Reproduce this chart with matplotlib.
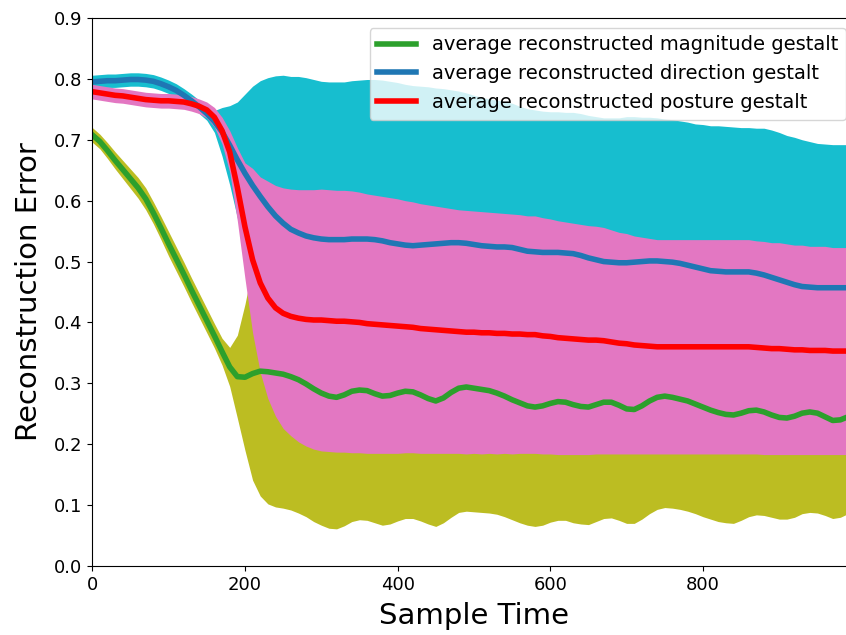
import matplotlib
matplotlib.use("Agg")
import matplotlib.pyplot as plt
import numpy as np

# sample times (every 10 samples)
t = np.arange(0, 1001, 10)

# average reconstruction error and spread for each gestalt
magnitude_mean = [
    0.708, 0.697, 0.682, 0.666, 0.651, 0.636, 0.621, 0.603, 0.580, 0.555,
    0.529, 0.504, 0.479, 0.453, 0.428, 0.403, 0.378, 0.352, 0.327, 0.311,
    0.310, 0.316, 0.320, 0.319, 0.317, 0.315, 0.311, 0.306, 0.299, 0.291,
    0.284, 0.279, 0.277, 0.281, 0.287, 0.289, 0.288, 0.283, 0.279, 0.280,
    0.284, 0.287, 0.286, 0.281, 0.275, 0.271, 0.276, 0.285, 0.292, 0.294,
    0.292, 0.290, 0.288, 0.284, 0.279, 0.273, 0.268, 0.263, 0.261, 0.263,
    0.267, 0.270, 0.269, 0.265, 0.262, 0.261, 0.265, 0.269, 0.269, 0.264,
    0.258, 0.257, 0.263, 0.271, 0.277, 0.279, 0.277, 0.274, 0.271, 0.266,
    0.261, 0.256, 0.252, 0.249, 0.248, 0.251, 0.255, 0.256, 0.253, 0.248,
    0.244, 0.243, 0.246, 0.251, 0.253, 0.251, 0.245, 0.239, 0.240, 0.245,
    0.248]
magnitude_std = [
    0.012, 0.012, 0.013, 0.014, 0.015, 0.016, 0.017, 0.018, 0.018, 0.019,
    0.020, 0.020, 0.020, 0.020, 0.020, 0.020, 0.020, 0.022, 0.032, 0.068,
    0.120, 0.175, 0.205, 0.217, 0.220, 0.220, 0.219, 0.219, 0.218, 0.218,
    0.217, 0.217, 0.216, 0.215, 0.214, 0.213, 0.213, 0.212, 0.212, 0.211,
    0.210, 0.209, 0.208, 0.207, 0.206, 0.206, 0.205, 0.205, 0.204, 0.204,
    0.203, 0.202, 0.201, 0.199, 0.198, 0.197, 0.197, 0.196, 0.196, 0.196,
    0.195, 0.195, 0.194, 0.194, 0.193, 0.193, 0.192, 0.191, 0.190, 0.189,
    0.188, 0.187, 0.186, 0.185, 0.184, 0.183, 0.182, 0.181, 0.181, 0.180,
    0.180, 0.179, 0.179, 0.178, 0.178, 0.176, 0.174, 0.172, 0.170, 0.168,
    0.167, 0.166, 0.166, 0.165, 0.165, 0.164, 0.162, 0.161, 0.160, 0.159,
    0.158]

direction_mean = [
    0.795, 0.796, 0.797, 0.797, 0.798, 0.799, 0.799, 0.798, 0.796, 0.792,
    0.787, 0.781, 0.773, 0.764, 0.754, 0.743, 0.730, 0.713, 0.691, 0.667,
    0.645, 0.625, 0.607, 0.590, 0.575, 0.563, 0.553, 0.547, 0.542, 0.539,
    0.537, 0.536, 0.536, 0.536, 0.537, 0.537, 0.537, 0.536, 0.534, 0.531,
    0.529, 0.527, 0.526, 0.527, 0.528, 0.529, 0.530, 0.531, 0.531, 0.530,
    0.528, 0.526, 0.525, 0.524, 0.524, 0.523, 0.520, 0.517, 0.516, 0.515,
    0.515, 0.515, 0.514, 0.513, 0.510, 0.506, 0.503, 0.500, 0.499, 0.498,
    0.498, 0.499, 0.500, 0.501, 0.501, 0.500, 0.499, 0.497, 0.494, 0.491,
    0.488, 0.485, 0.484, 0.483, 0.483, 0.483, 0.483, 0.481, 0.478, 0.474,
    0.470, 0.466, 0.462, 0.459, 0.458, 0.457, 0.457, 0.457, 0.457, 0.457,
    0.457]
direction_std = [
    0.011, 0.011, 0.011, 0.011, 0.011, 0.011, 0.011, 0.011, 0.011, 0.011,
    0.011, 0.011, 0.011, 0.011, 0.011, 0.011, 0.018, 0.040, 0.065, 0.095,
    0.130, 0.163, 0.190, 0.212, 0.230, 0.243, 0.251, 0.257, 0.260, 0.260,
    0.259, 0.259, 0.259, 0.259, 0.260, 0.261, 0.262, 0.263, 0.264, 0.265,
    0.265, 0.264, 0.263, 0.261, 0.259, 0.256, 0.254, 0.251, 0.249, 0.247,
    0.245, 0.244, 0.242, 0.241, 0.239, 0.237, 0.235, 0.234, 0.233, 0.232,
    0.231, 0.231, 0.231, 0.232, 0.233, 0.234, 0.235, 0.236, 0.237, 0.238,
    0.240, 0.239, 0.237, 0.236, 0.235, 0.234, 0.234, 0.234, 0.235, 0.235,
    0.237, 0.238, 0.239, 0.239, 0.238, 0.237, 0.237, 0.238, 0.241, 0.242,
    0.242, 0.241, 0.242, 0.241, 0.239, 0.237, 0.236, 0.235, 0.235, 0.235,
    0.235]

posture_mean = [
    0.779, 0.777, 0.775, 0.773, 0.772, 0.770, 0.768, 0.766, 0.765, 0.764,
    0.764, 0.763, 0.762, 0.759, 0.755, 0.749, 0.737, 0.715, 0.680, 0.622,
    0.557, 0.503, 0.465, 0.440, 0.424, 0.415, 0.410, 0.407, 0.405, 0.404,
    0.404, 0.403, 0.402, 0.402, 0.401, 0.400, 0.398, 0.397, 0.396, 0.395,
    0.394, 0.393, 0.392, 0.390, 0.389, 0.388, 0.387, 0.386, 0.385, 0.384,
    0.384, 0.383, 0.383, 0.382, 0.382, 0.381, 0.381, 0.380, 0.380, 0.378,
    0.377, 0.375, 0.374, 0.373, 0.372, 0.371, 0.371, 0.370, 0.368, 0.366,
    0.365, 0.363, 0.362, 0.361, 0.360, 0.360, 0.360, 0.360, 0.360, 0.360,
    0.360, 0.360, 0.360, 0.360, 0.360, 0.360, 0.360, 0.359, 0.358, 0.357,
    0.357, 0.356, 0.355, 0.355, 0.354, 0.354, 0.354, 0.353, 0.353, 0.353,
    0.353]
# the posture band is not symmetric while it opens up around t = 200
posture_spread_up = [
    0.012, 0.012, 0.012, 0.012, 0.012, 0.012, 0.012, 0.012, 0.012, 0.012,
    0.012, 0.012, 0.012, 0.012, 0.012, 0.013, 0.016, 0.022, 0.035, 0.065,
    0.105, 0.150, 0.174, 0.192, 0.201, 0.206, 0.209, 0.211, 0.213, 0.214,
    0.215, 0.215, 0.215, 0.215, 0.215, 0.214, 0.213, 0.212, 0.211, 0.210,
    0.209, 0.207, 0.206, 0.205, 0.204, 0.203, 0.202, 0.201, 0.200, 0.200,
    0.199, 0.199, 0.198, 0.198, 0.197, 0.197, 0.196, 0.195, 0.195, 0.194,
    0.193, 0.192, 0.191, 0.190, 0.189, 0.188, 0.187, 0.186, 0.184, 0.182,
    0.181, 0.179, 0.178, 0.177, 0.176, 0.176, 0.176, 0.176, 0.176, 0.176,
    0.176, 0.176, 0.176, 0.176, 0.176, 0.176, 0.176, 0.175, 0.175, 0.174,
    0.174, 0.173, 0.172, 0.172, 0.171, 0.171, 0.171, 0.170, 0.170, 0.170,
    0.170]
posture_spread_down = [
    0.012, 0.012, 0.012, 0.012, 0.012, 0.012, 0.012, 0.012, 0.012, 0.012,
    0.012, 0.012, 0.012, 0.012, 0.012, 0.013, 0.016, 0.022, 0.033, 0.055,
    0.085, 0.120, 0.147, 0.165, 0.178, 0.189, 0.196, 0.203, 0.208, 0.212,
    0.215, 0.215, 0.215, 0.215, 0.215, 0.214, 0.213, 0.212, 0.211, 0.210,
    0.209, 0.207, 0.206, 0.205, 0.204, 0.203, 0.202, 0.201, 0.200, 0.200,
    0.199, 0.199, 0.198, 0.198, 0.197, 0.197, 0.196, 0.195, 0.195, 0.194,
    0.193, 0.192, 0.191, 0.190, 0.189, 0.188, 0.187, 0.186, 0.184, 0.182,
    0.181, 0.179, 0.178, 0.177, 0.176, 0.176, 0.176, 0.176, 0.176, 0.176,
    0.176, 0.176, 0.176, 0.176, 0.176, 0.176, 0.176, 0.175, 0.175, 0.174,
    0.174, 0.173, 0.172, 0.172, 0.171, 0.171, 0.171, 0.170, 0.170, 0.170,
    0.170]

labels = ["average reconstructed magnitude gestalt",
          "average reconstructed direction gestalt",
          "average reconstructed posture gestalt"]

mag_m, mag_s = np.array(magnitude_mean), np.array(magnitude_std)
dir_m, dir_s = np.array(direction_mean), np.array(direction_std)
pos_m = np.array(posture_mean)
pos_up, pos_dn = np.array(posture_spread_up), np.array(posture_spread_down)

fig = plt.figure(figsize=(8.46, 6.35), dpi=100)
# axes run a little past the right border of the figure
ax = fig.add_axes([92.3 / 846, 69 / 635, 763.3 / 846, 548 / 635])

# spread bands first, then the averages on top
ax.fill_between(t, mag_m - mag_s, mag_m + mag_s, color="tab:olive", lw=0)
ax.fill_between(t, dir_m - dir_s, dir_m + dir_s, color="tab:cyan", lw=0)
ax.fill_between(t, pos_m - pos_dn, pos_m + pos_up, color="tab:pink", lw=0)

ax.plot(t, mag_m, color="tab:green", lw=4, label=labels[0])
ax.plot(t, dir_m, color="tab:blue", lw=4, label=labels[1])
ax.plot(t, pos_m, color="red", lw=4, label=labels[2])

ax.set_xlim(0, 1000)
ax.set_ylim(0, 0.9)
ax.set_xticks([0, 200, 400, 600, 800])
ax.set_xlabel("Sample Time", fontsize=21, labelpad=6)
ax.set_ylabel("Reconstruction Error", fontsize=21, labelpad=8)
ax.tick_params(labelsize=13)
ax.legend(loc="upper right", fontsize=14)

fig.savefig("out.png", dpi=100)
